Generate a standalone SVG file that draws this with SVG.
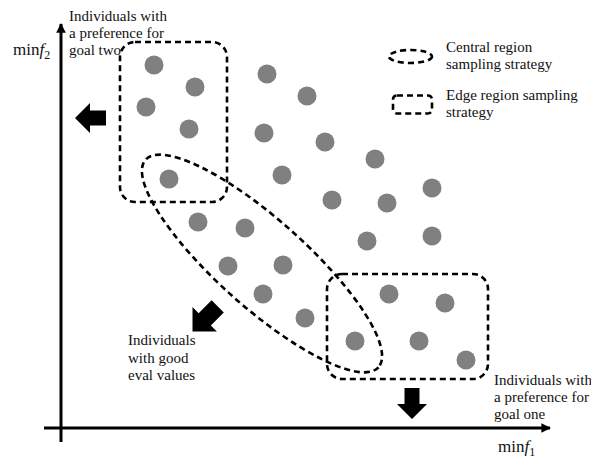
<svg xmlns="http://www.w3.org/2000/svg" width="591" height="459" viewBox="0 0 591 459">
  <style>
    .t { font-family: "Liberation Serif", "Times New Roman", serif; font-size: 15px; fill: #111; }
    .m { font-family: "Liberation Serif", "Times New Roman", serif; font-size: 17px; fill: #111; }
    .dot { fill: #808080; }
    .zone { fill: none; stroke: #000; stroke-width: 2.6; stroke-dasharray: 6 4; }
    .axis { stroke: #000; stroke-width: 3; fill: none; }
    .big { fill: #000; }
  </style>
  <defs>
    <marker id="axisHead" viewBox="0 0 10 10" refX="9" refY="5" markerWidth="3.2" markerHeight="3.2" orient="auto" markerUnits="strokeWidth">
      <path d="M0,0 L10,5 L0,10 Z" fill="#000"/>
    </marker>
    <!-- block arrow pointing along +x, tip at origin -->
    <polygon id="blockArrow" points="0,0 -15,-15 -15,-7.5 -31,-7.5 -31,7.5 -15,7.5 -15,15"/>
  </defs>

  <rect width="591" height="459" fill="#fff"/>

  <!-- axes -->
  <g id="axes">
    <line class="axis" x1="61" y1="442" x2="61" y2="24" marker-end="url(#axisHead)"/>
    <line class="axis" x1="44" y1="428" x2="550" y2="428" marker-end="url(#axisHead)"/>
    <text class="m" x="13" y="55">min<tspan font-style="italic">f</tspan><tspan font-size="12" dy="4">2</tspan></text>
    <text class="m" x="498" y="452">min<tspan font-style="italic">f</tspan><tspan font-size="12" dy="4">1</tspan></text>
  </g>

  <!-- population -->
  <g id="individuals">
    <circle class="dot" cx="154" cy="65" r="9.5"/>
    <circle class="dot" cx="195" cy="87" r="9.5"/>
    <circle class="dot" cx="146" cy="107" r="9.5"/>
    <circle class="dot" cx="189" cy="129" r="9.5"/>
    <circle class="dot" cx="169" cy="179" r="9.5"/>
    <circle class="dot" cx="267" cy="74" r="9.5"/>
    <circle class="dot" cx="307" cy="96" r="9.5"/>
    <circle class="dot" cx="264" cy="133" r="9.5"/>
    <circle class="dot" cx="325" cy="142" r="9.5"/>
    <circle class="dot" cx="375" cy="159" r="9.5"/>
    <circle class="dot" cx="282" cy="175" r="9.5"/>
    <circle class="dot" cx="432" cy="188" r="9.5"/>
    <circle class="dot" cx="332" cy="200" r="9.5"/>
    <circle class="dot" cx="387" cy="203" r="9.5"/>
    <circle class="dot" cx="198" cy="222" r="9.5"/>
    <circle class="dot" cx="245" cy="228" r="9.5"/>
    <circle class="dot" cx="367" cy="241" r="9.5"/>
    <circle class="dot" cx="432" cy="236" r="9.5"/>
    <circle class="dot" cx="228" cy="266" r="9.5"/>
    <circle class="dot" cx="283" cy="265" r="9.5"/>
    <circle class="dot" cx="263" cy="294" r="9.5"/>
    <circle class="dot" cx="305" cy="318" r="9.5"/>
    <circle class="dot" cx="389" cy="294" r="9.5"/>
    <circle class="dot" cx="445" cy="303" r="9.5"/>
    <circle class="dot" cx="355" cy="341" r="9.5"/>
    <circle class="dot" cx="419" cy="341" r="9.5"/>
    <circle class="dot" cx="466" cy="360" r="9.5"/>
  </g>

  <!-- sampling regions -->
  <g id="edge-region-goal-two">
    <rect class="zone" x="120" y="42" width="107" height="160" rx="15"/>
  </g>
  <g id="edge-region-goal-one">
    <rect class="zone" x="327" y="274" width="161" height="105" rx="15"/>
  </g>
  <g id="central-region">
    <ellipse class="zone" cx="262" cy="263.5" rx="156" ry="44" transform="rotate(41.7 262 263.5)"/>
  </g>

  <!-- legend -->
  <g id="legend">
    <ellipse class="zone" cx="410.5" cy="56.5" rx="21.5" ry="6.5" stroke-dasharray="5 3.5"/>
    <text class="t" x="446" y="52">Central region</text>
    <text class="t" x="446" y="69">sampling strategy</text>
    <rect class="zone" x="393" y="95.5" width="39" height="18" rx="4" stroke-dasharray="5 3.5"/>
    <text class="t" x="446" y="100">Edge region sampling</text>
    <text class="t" x="446" y="117">strategy</text>
  </g>

  <!-- direction arrows -->
  <g id="connectors">
    <use href="#blockArrow" class="big" transform="translate(75 118) rotate(180)"/>
    <use href="#blockArrow" class="big" transform="translate(412 419) rotate(90)"/>
    <use href="#blockArrow" class="big" transform="translate(192.5 331.5) rotate(135) scale(1.15)"/>
  </g>

  <!-- labels -->
  <g id="label-goal-two">
    <text class="t" x="69" y="21">Individuals with</text>
    <text class="t" x="69" y="38">a preference for</text>
    <text class="t" x="69" y="55">goal two</text>
  </g>
  <g id="label-good-eval">
    <text class="t" x="128" y="345">Individuals</text>
    <text class="t" x="128" y="363">with good</text>
    <text class="t" x="128" y="380">eval values</text>
  </g>
  <g id="label-goal-one">
    <text class="t" x="494" y="385">Individuals with</text>
    <text class="t" x="494" y="402">a preference for</text>
    <text class="t" x="494" y="419">goal one</text>
  </g>
</svg>
